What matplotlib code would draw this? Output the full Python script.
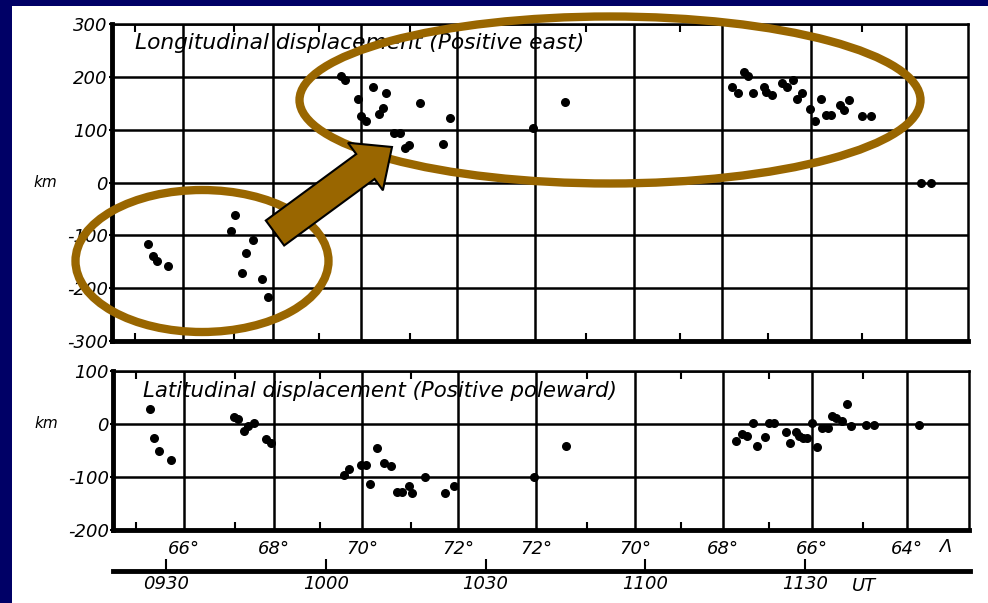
import matplotlib.pyplot as plt
from matplotlib.patches import Ellipse, Rectangle, FancyArrow

# UT in minutes after midnight (0930 = 570)
lon_t = [566.8, 567.7, 568.4, 570.5, 583.2, 582.4, 586.6, 585.2, 584.5, 588.3, 589.4,
         603.1, 603.9, 609.1, 611.6, 606.2, 618.0, 610.9, 610.2, 606.9, 607.8, 623.6,
         613.1, 614.1, 615.9, 615.2, 622.2, 645.2, 639.1,
         678.9, 679.6, 676.7, 677.7, 680.6, 682.6, 683.1, 684.1, 686.1, 686.9, 688.1,
         689.8, 688.9, 693.3, 691.3, 692.2, 694.2, 695.2, 696.9, 698.6, 697.7, 701.1,
         702.8, 712.2, 714.0]
lon_km = [-116, -139, -149, -158, -62, -91, -109, -133, -172, -183, -217,
          202, 194, 180, 170, 158, 151, 141, 129, 126, 117, 122,
          93, 93, 71, 65, 72, 152, 103,
          210, 202, 180, 169, 170, 180, 172, 166, 189, 180, 194,
          169, 158, 158, 139, 117, 128, 128, 147, 156, 137, 126,
          126, 0, 0]

lat_t = [566.9, 567.7, 568.6, 570.9, 582.8, 583.6, 584.7, 585.3, 586.6, 588.8, 589.7,
         603.4, 604.4, 606.7, 607.5, 608.4, 609.7, 610.9, 612.2, 618.6, 613.4, 614.4,
         615.6, 616.3, 622.5, 624.1, 645.2, 639.2,
         677.2, 678.3, 679.2, 681.1, 682.7, 680.3, 683.4, 684.4, 686.6, 687.3, 688.4,
         689.0, 689.8, 690.6, 692.5, 691.4, 693.3, 694.4, 695.3, 695.9, 697.1, 698.1,
         698.8, 701.6, 703.1, 711.6]
lat_km = [28, -27, -50, -68, 13, 9, -13, -4, 1, -29, -35,
          -96, -85, -77, -77, -113, -46, -73, -79, -100, -128, -128,
          -117, -130, -130, -117, -42, -100,
          -32, -18, -23, -42, -25, 1, 1, 1, -15, -35, -15,
          -23, -27, -26, -43, 1, -7, -7, 15, 12, 6, 38,
          -4, -2, -2, -2]

# invariant latitude crossings (UT minutes)
lat_grid_t = [573.3, 590.2, 606.9, 624.9, 639.6, 658.2, 674.7, 691.4, 709.3]
lat_grid_labels = ['66°', '68°', '70°', '72°', '72°', '70°', '68°', '66°', '64°']
odd_lat_t = [564.4, 583.0, 599.0, 616.0, 649.2, 666.8, 683.3, 701.0]

ut_t = [570, 600, 630, 660, 690]
ut_labels = ['0930', '1000', '1030', '1100', '1130']

navy = '#000066'
brown = '#996600'
W, H = 988, 603
xlim = (560, 721)

fig = plt.figure(figsize=(9.88, 6.03), dpi=100, facecolor=navy)
fig.add_artist(Rectangle((12 / W, 0), (W - 12) / W, (H - 6) / H,
                         transform=fig.transFigure, facecolor='white',
                         edgecolor='none', zorder=-5))

font = dict(style='italic', color='black')


def px_box(left, top, right, bottom):
    return [left / W, 1 - bottom / H, (right - left) / W, (bottom - top) / H]


def style_panel(ax, yticks, ylabels):
    ax.set_xlim(*xlim)
    ax.set_ylim(yticks[-1], yticks[0])
    ax.set_yticks(yticks)
    ax.set_yticklabels(ylabels, fontsize=13, **font)
    ax.set_xticks(lat_grid_t)
    ax.set_xticks(odd_lat_t, minor=True)
    ax.grid(True, which='major', color='black', lw=1.8)
    ax.tick_params(axis='y', length=2, width=1.5, pad=1)
    ax.tick_params(axis='x', which='major', length=0)
    ax.tick_params(axis='x', which='minor', direction='in', length=6, width=1.5,
                   top=True, bottom=True)
    for s in ['left', 'bottom']:
        ax.spines[s].set_linewidth(3.5)
    for s in ['top', 'right']:
        ax.spines[s].set_linewidth(1.8)
    ax.set_axisbelow(True)
    ax.text(-0.078, 0, 'km', transform=ax.get_yaxis_transform(), ha='center',
            va='center', fontsize=11, **font)


# longitudinal panel
ax1 = fig.add_axes(px_box(112, 24, 968, 341))
style_panel(ax1, [300, 200, 100, 0, -100, -200, -300],
            ['300', '200', '100', '0', '-100', '-200', '-300'])
ax1.tick_params(axis='x', which='major', labelbottom=False)
ax1.scatter(lon_t, lon_km, s=30, color='black', zorder=3)
ax1.text(564.4, 264, 'Longitudinal displacement (Positive east)', fontsize=15.7,
         va='center', ha='left', **font)

# latitudinal panel
ax2 = fig.add_axes(px_box(113, 371, 969, 530))
style_panel(ax2, [100, 0, -100, -200], ['100', '0', '-100', '-200'])
ax2.set_xticklabels(lat_grid_labels, fontsize=13, **font)
ax2.tick_params(axis='x', which='major', pad=7)
ax2.scatter(lat_t, lat_km, s=30, color='black', zorder=3)
ax2.text(565.6, 62, 'Latitudinal displacement (Positive poleward)', fontsize=15.3,
         va='center', ha='left', **font)
ax2.text(716.5, -232, 'Λ', fontsize=13, va='center', ha='center', **font)

# UT axis
ax3 = fig.add_axes(px_box(113, 561, 970, 571))
ax3.set_xlim(*xlim)
ax3.set_yticks([])
for s in ['left', 'right', 'top']:
    ax3.spines[s].set_visible(False)
ax3.spines['bottom'].set_linewidth(3.5)
ax3.patch.set_alpha(0)
ax3.set_xticks(ut_t)
ax3.set_xticklabels(ut_labels, fontsize=13, **font)
ax3.tick_params(axis='x', direction='in', length=9, width=1.5, pad=3)
ax3.text(701, -0.6, 'UT', fontsize=13, va='top', ha='center',
         transform=ax3.get_xaxis_transform(), **font)

# highlight overlay
ov = fig.add_axes([0, 0, 1, 1], zorder=10)
ov.set_xlim(0, W)
ov.set_ylim(H, 0)
ov.axis('off')
ov.patch.set_alpha(0)
ov.add_patch(Ellipse((610, 100), 621, 167, fill=False, edgecolor=brown, lw=6))
ov.add_patch(Ellipse((202, 261), 253, 142, fill=False, edgecolor=brown, lw=6))
ov.add_patch(FancyArrow(275, 233, 117, -86, width=31, head_width=59,
                        head_length=33, length_includes_head=True,
                        facecolor=brown, edgecolor='black', lw=1.5))

fig.savefig('out.png', dpi=100, facecolor=navy)
